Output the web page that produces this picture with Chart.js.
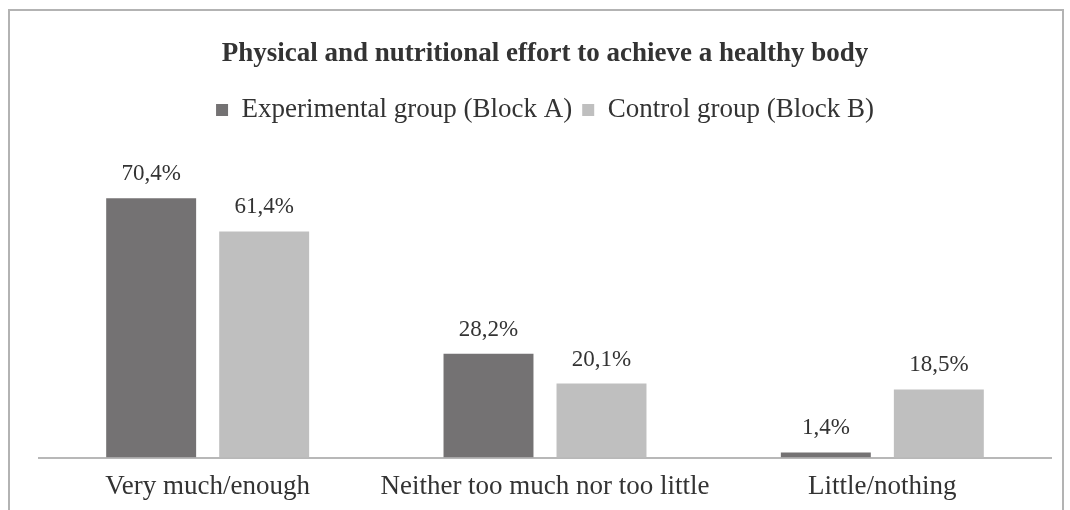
<!DOCTYPE html>
<html>
<head>
<meta charset="utf-8">
<script src="https://cdn.jsdelivr.net/npm/chart.js@4.4.1/dist/chart.umd.min.js"></script>
<style>
  html, body { margin: 0; padding: 0; background: #fff; overflow: hidden; }
  #wrap { position: relative; width: 1070px; height: 510px; }
  #frame {
    position: absolute; left: 8px; top: 9px; width: 1052px; height: 510px;
    border: 2px solid #b3b3b3; border-bottom: none; pointer-events: none;
  }
</style>
</head>
<body>
<div id="wrap">
  <canvas id="chart" width="1070" height="510"></canvas>
  <div id="frame"></div>
</div>
<script>
const categories = ['Very much/enough', 'Neither too much nor too little', 'Little/nothing'];
const experimental = [70.4, 28.2, 1.4];
const control = [61.4, 20.1, 18.5];
const seriesNames = ['Experimental group (Block A)', 'Control group (Block B)'];

const serif = '"Liberation Serif", "Times New Roman", serif';
const textColor = '#333';

// value labels above bars, comma decimals like the original
const barLabels = {
  id: 'barLabels',
  afterDatasetsDraw(chart) {
    const ctx = chart.ctx;
    ctx.save();
    ctx.font = '23px ' + serif;
    ctx.fillStyle = textColor;
    ctx.textAlign = 'center';
    ctx.textBaseline = 'middle';
    chart.data.datasets.forEach((ds, i) => {
      chart.getDatasetMeta(i).data.forEach((bar, j) => {
        const txt = ds.data[j].toFixed(1).replace('.', ',') + '%';
        ctx.fillText(txt, bar.x, bar.y - 24);
      });
    });
    ctx.restore();
  }
};

new Chart(document.getElementById('chart'), {
  type: 'bar',
  data: {
    labels: categories,
    datasets: [
      { label: seriesNames[0], data: experimental, backgroundColor: '#747273' },
      { label: seriesNames[1], data: control, backgroundColor: '#bfbfbf' }
    ]
  },
  options: {
    responsive: false,
    animation: false,
    layout: { padding: { left: 39, right: 19, top: 28, bottom: 2 } },
    datasets: { bar: { categoryPercentage: 0.67, barPercentage: 0.796 } },
    plugins: {
      title: {
        display: true,
        text: 'Physical and nutritional effort to achieve a healthy body',
        color: textColor,
        font: { family: serif, size: 27, weight: 'bold' },
        padding: { top: 10, bottom: 16 }
      },
      legend: {
        labels: {
          color: textColor,
          font: { family: serif, size: 27 },
          boxWidth: 12, boxHeight: 12,
          padding: 10
        }
      },
      tooltip: { enabled: false }
    },
    scales: {
      x: {
        grid: { display: false },
        border: { color: '#b8b8b8', width: 2 },
        ticks: { color: textColor, font: { family: serif, size: 27 }, padding: 5 }
      },
      y: { display: false, min: 0, max: 88 }
    }
  },
  plugins: [barLabels]
});
</script>
</body>
</html>
